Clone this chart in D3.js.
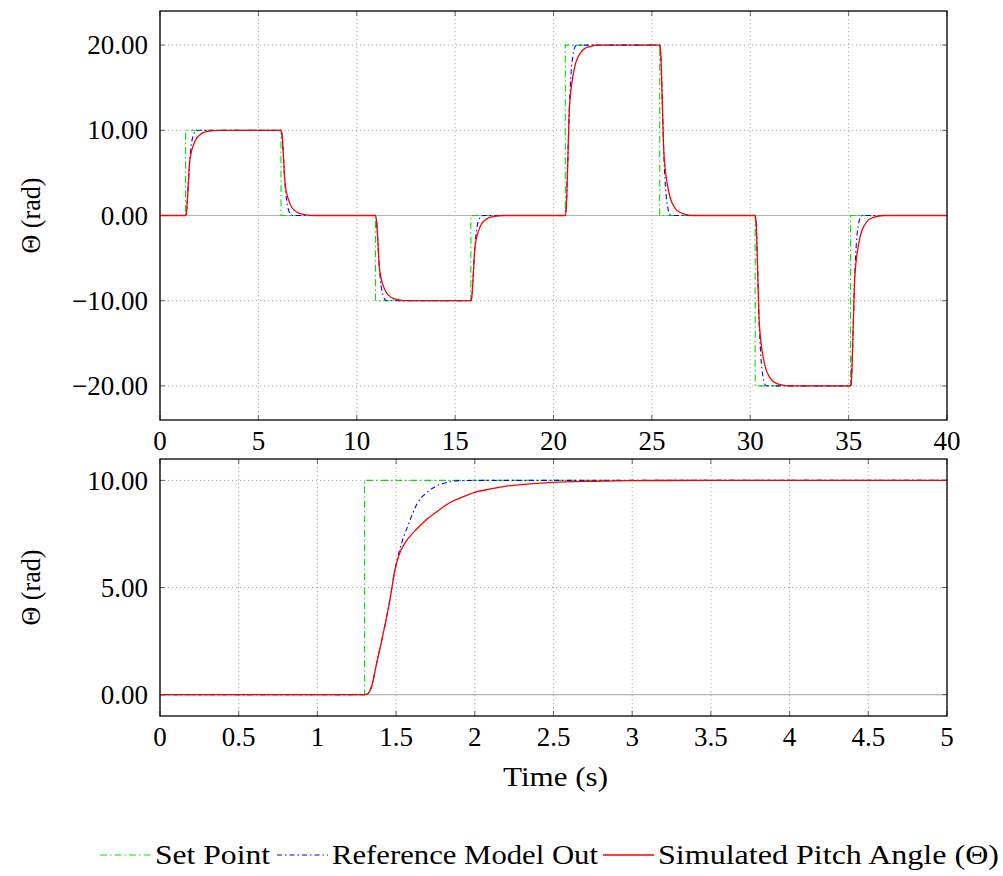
<!DOCTYPE html>
<html>
<head>
<meta charset="utf-8">
<script src="https://cdn.jsdelivr.net/npm/d3@7"></script>
<style>
  html, body { margin: 0; padding: 0; background: #fff; }
  svg text { font-family: "Liberation Serif", "DejaVu Serif", serif; }
</style>
</head>
<body>
<svg id="chart" width="1003" height="876"></svg>
<script>
// ---- Data ---------------------------------------------------------------
// Set point (step changes), full run
const setTimes  = [0, 1.3, 6.15, 10.95, 15.8, 20.6, 25.4, 30.25, 35.1, 40];
const setValues = [0, 10,  0,    -10,   0,    20,   0,    -20,   0,    0];

// Reference model output, full run
const refTimes = [0,
  1.30, 1.35, 1.42, 1.49, 1.59, 1.69, 1.84, 1.95,
  6.15, 6.20, 6.27, 6.34, 6.44, 6.54, 6.69, 6.80,
  10.95, 11.00, 11.07, 11.14, 11.24, 11.34, 11.49, 11.60,
  15.80, 15.85, 15.92, 15.99, 16.09, 16.19, 16.34, 16.45,
  20.60, 20.65, 20.72, 20.79, 20.89, 20.99, 21.14, 21.25,
  25.40, 25.45, 25.52, 25.59, 25.69, 25.79, 25.94, 26.05,
  30.25, 30.30, 30.37, 30.44, 30.54, 30.64, 30.79, 30.90,
  35.10, 35.15, 35.22, 35.29, 35.39, 35.49, 35.64, 35.75,
  40];
const refValues = [0,
  0, 0.5, 2.9, 5.8, 8.3, 9.4, 9.97, 10,
  10, 9.5, 7.1, 4.2, 1.7, 0.6, 0.03, 0,
  0, -0.5, -2.9, -5.8, -8.3, -9.4, -9.97, -10,
  -10, -9.5, -7.1, -4.2, -1.7, -0.6, -0.03, 0,
  0, 1.0, 5.8, 11.6, 16.6, 18.8, 19.94, 20,
  20, 19.0, 14.2, 8.4, 3.4, 1.2, 0.06, 0,
  0, -1.0, -5.8, -11.6, -16.6, -18.8, -19.94, -20,
  -20, -19.0, -14.2, -8.4, -3.4, -1.2, -0.06, 0,
  0];

// Simulated pitch angle, full run
const pitchTimes = [0,
  1.30, 1.35, 1.42, 1.49, 1.59, 1.69, 1.84, 1.99, 2.20, 2.50, 3.00,
  6.15, 6.20, 6.27, 6.34, 6.44, 6.54, 6.69, 6.84, 7.05, 7.35, 7.85,
  10.95, 11.00, 11.07, 11.14, 11.24, 11.34, 11.49, 11.64, 11.85, 12.15, 12.65,
  15.80, 15.85, 15.92, 15.99, 16.09, 16.19, 16.34, 16.49, 16.70, 17.00, 17.50,
  20.60, 20.65, 20.72, 20.79, 20.89, 20.99, 21.14, 21.29, 21.50, 21.80, 22.30,
  25.40, 25.45, 25.52, 25.59, 25.69, 25.79, 25.94, 26.09, 26.30, 26.60, 27.10,
  30.25, 30.30, 30.37, 30.44, 30.54, 30.64, 30.79, 30.94, 31.15, 31.45, 31.95,
  35.10, 35.15, 35.22, 35.29, 35.39, 35.49, 35.64, 35.79, 36.00, 36.30, 36.80,
  40];
const pitchValues = [0,
  0, 0.4, 2.9, 5.8, 7.4, 8.2, 9.0, 9.4, 9.73, 9.9, 10,
  10, 9.5, 7.1, 4.2, 2.6, 1.8, 1.0, 0.6, 0.27, 0.1, 0,
  0, -0.5, -2.9, -5.8, -7.4, -8.2, -9.0, -9.4, -9.73, -9.9, -10,
  -10, -9.5, -7.1, -4.2, -2.6, -1.8, -1.0, -0.6, -0.27, -0.1, 0,
  0, 1.0, 5.8, 11.6, 14.8, 16.4, 18.0, 18.8, 19.46, 19.8, 20,
  20, 19.0, 14.2, 8.4, 5.2, 3.6, 2.0, 1.2, 0.54, 0.2, 0,
  0, -1.0, -5.8, -11.6, -14.8, -16.4, -18.0, -18.8, -19.46, -19.8, -20,
  -20, -19.0, -14.2, -8.4, -5.2, -3.6, -2.0, -1.2, -0.54, -0.2, 0,
  0];

// First five seconds, finer sampling
const zoomSetTimes  = [0, 1.3, 5];
const zoomSetValues = [0, 10, 10];

const zoomRefTimes  = [0, 1.30, 1.315, 1.345, 1.377, 1.419, 1.461, 1.493, 1.52, 1.55, 1.578, 1.605, 1.635, 1.675, 1.715, 1.76, 1.80, 1.85, 1.90, 2.0, 5];
const zoomRefValues = [0, 0,    0.02,  0.39,  1.48,  2.88,  4.44,  5.84,  6.7,  7.4,  7.94,  8.45,  8.93,  9.3,   9.55,  9.75, 9.86, 9.95, 9.99, 10,  10];

const zoomPitchTimes  = [0, 1.30, 1.315, 1.345, 1.377, 1.419, 1.461, 1.493, 1.52, 1.55, 1.58, 1.63, 1.69, 1.76, 1.84, 1.92, 1.99, 2.10, 2.20, 2.35, 2.50, 2.75, 3.00, 3.50, 5];
const zoomPitchValues = [0, 0,    0.02,  0.39,  1.48,  2.88,  4.44,  5.84,  6.55, 7.0,  7.32, 7.72, 8.15, 8.55, 8.96, 9.22, 9.42, 9.6,  9.73, 9.84, 9.91, 9.96, 9.99, 10,   10];

// Tick values
const topXTicks = [0, 5, 10, 15, 20, 25, 30, 35, 40];
const topYTicks = [-20, -10, 0, 10, 20];
const zoomXTicks = [0, 0.5, 1, 1.5, 2, 2.5, 3, 3.5, 4, 4.5, 5];
const zoomYTicks = [0, 5, 10];

const legendLabels = ["Set Point", "Reference Model Out", "Simulated Pitch Angle (\u0398)"];

// ---- Drawing ------------------------------------------------------------
const svg = d3.select("#chart");
const FONT = 27;
const FAMILY = "'Liberation Serif', 'DejaVu Serif', serif";
const colors = { set: "#00e000", ref: "#0000ff", pitch: "#ff0000" };
const dashes = { set: "7,3,1.5,3", ref: "5,3,1.5,3", pitch: null };

function zip(t, v) { return t.map((d, i) => [d, v[i]]); }
function fmtY(d) { return (d < 0 ? "\u2212" : "") + Math.abs(d).toFixed(2); }
function label(sel) { return sel.append("text").attr("font-family", FAMILY).attr("font-size", FONT); }

function panel(cfg) {
  const { x0, x1, y0, y1, xDomain, yDomain, xTicks, yTicks, id } = cfg;
  const x = d3.scaleLinear().domain(xDomain).range([x0, x1]);
  const y = d3.scaleLinear().domain(yDomain).range([y1, y0]);
  const g = svg.append("g");

  g.append("clipPath").attr("id", id).append("rect")
    .attr("x", x0).attr("y", y0).attr("width", x1 - x0).attr("height", y1 - y0);

  // dotted grid
  const grid = g.append("g").attr("stroke", "#a8a8a8").attr("stroke-width", 1)
    .attr("stroke-dasharray", "1.2,2.8");
  xTicks.forEach(t => grid.append("line")
    .attr("x1", x(t)).attr("x2", x(t)).attr("y1", y0).attr("y2", y1));
  yTicks.forEach(t => grid.append("line")
    .attr("x1", x0).attr("x2", x1).attr("y1", y(t)).attr("y2", y(t)));

  // zero reference line
  g.append("line").attr("x1", x0).attr("x2", x1).attr("y1", y(0)).attr("y2", y(0))
    .attr("stroke", "#b4b4b4").attr("stroke-width", 1.2);

  // inner tick marks on all four sides
  const tk = g.append("g").attr("stroke", "#666").attr("stroke-width", 1);
  const L = 5;
  xTicks.forEach(t => {
    tk.append("line").attr("x1", x(t)).attr("x2", x(t)).attr("y1", y1).attr("y2", y1 - L);
    tk.append("line").attr("x1", x(t)).attr("x2", x(t)).attr("y1", y0).attr("y2", y0 + L);
  });
  yTicks.forEach(t => {
    tk.append("line").attr("x1", x0).attr("x2", x0 + L).attr("y1", y(t)).attr("y2", y(t));
    tk.append("line").attr("x1", x1).attr("x2", x1 - L).attr("y1", y(t)).attr("y2", y(t));
  });

  const series = g.append("g").attr("clip-path", `url(#${id})`).attr("fill", "none");
  const stepLine = d3.line().x(d => x(d[0])).y(d => y(d[1])).curve(d3.curveStepAfter);
  const smooth = d3.line().x(d => x(d[0])).y(d => y(d[1])).curve(d3.curveMonotoneX);

  series.append("path").attr("d", stepLine(zip(cfg.setT, cfg.setV)))
    .attr("stroke", colors.set).attr("stroke-width", 1.1).attr("stroke-dasharray", dashes.set);
  series.append("path").attr("d", smooth(zip(cfg.refT, cfg.refV)))
    .attr("stroke", colors.ref).attr("stroke-width", 1.1).attr("stroke-dasharray", dashes.ref);
  series.append("path").attr("d", smooth(zip(cfg.pitchT, cfg.pitchV)))
    .attr("stroke", colors.pitch).attr("stroke-width", 1.3);

  // frame
  g.append("rect").attr("x", x0).attr("y", y0).attr("width", x1 - x0).attr("height", y1 - y0)
    .attr("fill", "none").attr("stroke", "#000").attr("stroke-width", 1.3);

  // tick labels
  xTicks.forEach(t => label(g).attr("x", x(t)).attr("y", y1 + 30)
    .attr("text-anchor", "middle").text(String(t)));
  yTicks.forEach(t => label(g).attr("x", x0 - 12).attr("y", y(t))
    .attr("dy", "0.34em").attr("text-anchor", "end").text(fmtY(t)));

  // y axis title
  label(g).attr("transform", `translate(40,${(y0 + y1) / 2}) rotate(-90)`)
    .attr("text-anchor", "middle").attr("textLength", 76).attr("lengthAdjust", "spacingAndGlyphs")
    .text("\u0398 (rad)");
  return { x, y };
}

panel({
  id: "clipTop", x0: 160, x1: 947, y0: 11, y1: 420,
  xDomain: [0, 40], yDomain: [-24, 24], xTicks: topXTicks, yTicks: topYTicks,
  setT: setTimes, setV: setValues, refT: refTimes, refV: refValues,
  pitchT: pitchTimes, pitchV: pitchValues
});

panel({
  id: "clipZoom", x0: 160, x1: 947, y0: 459, y1: 716,
  xDomain: [0, 5], yDomain: [-1, 11], xTicks: zoomXTicks, yTicks: zoomYTicks,
  setT: zoomSetTimes, setV: zoomSetValues, refT: zoomRefTimes, refV: zoomRefValues,
  pitchT: zoomPitchTimes, pitchV: zoomPitchValues
});

label(svg).attr("x", 555.5).attr("y", 786).attr("text-anchor", "middle")
  .attr("textLength", 105).attr("lengthAdjust", "spacingAndGlyphs").text("Time (s)");

// legend
const legendKeys = ["set", "ref", "pitch"];
const legendX = [100, 277, 603];
const legendTextW = [115, 266, 341];
const leg = svg.append("g");
legendKeys.forEach((k, i) => {
  leg.append("line").attr("x1", legendX[i]).attr("x2", legendX[i] + 51)
    .attr("y1", 855).attr("y2", 855)
    .attr("stroke", colors[k]).attr("stroke-width", k === "pitch" ? 1.3 : 1.1)
    .attr("stroke-dasharray", dashes[k]);
  label(leg).attr("x", legendX[i] + 55).attr("y", 855).attr("dy", "0.34em")
    .attr("textLength", legendTextW[i]).attr("lengthAdjust", "spacingAndGlyphs")
    .text(legendLabels[i]);
});
</script>
</body>
</html>
